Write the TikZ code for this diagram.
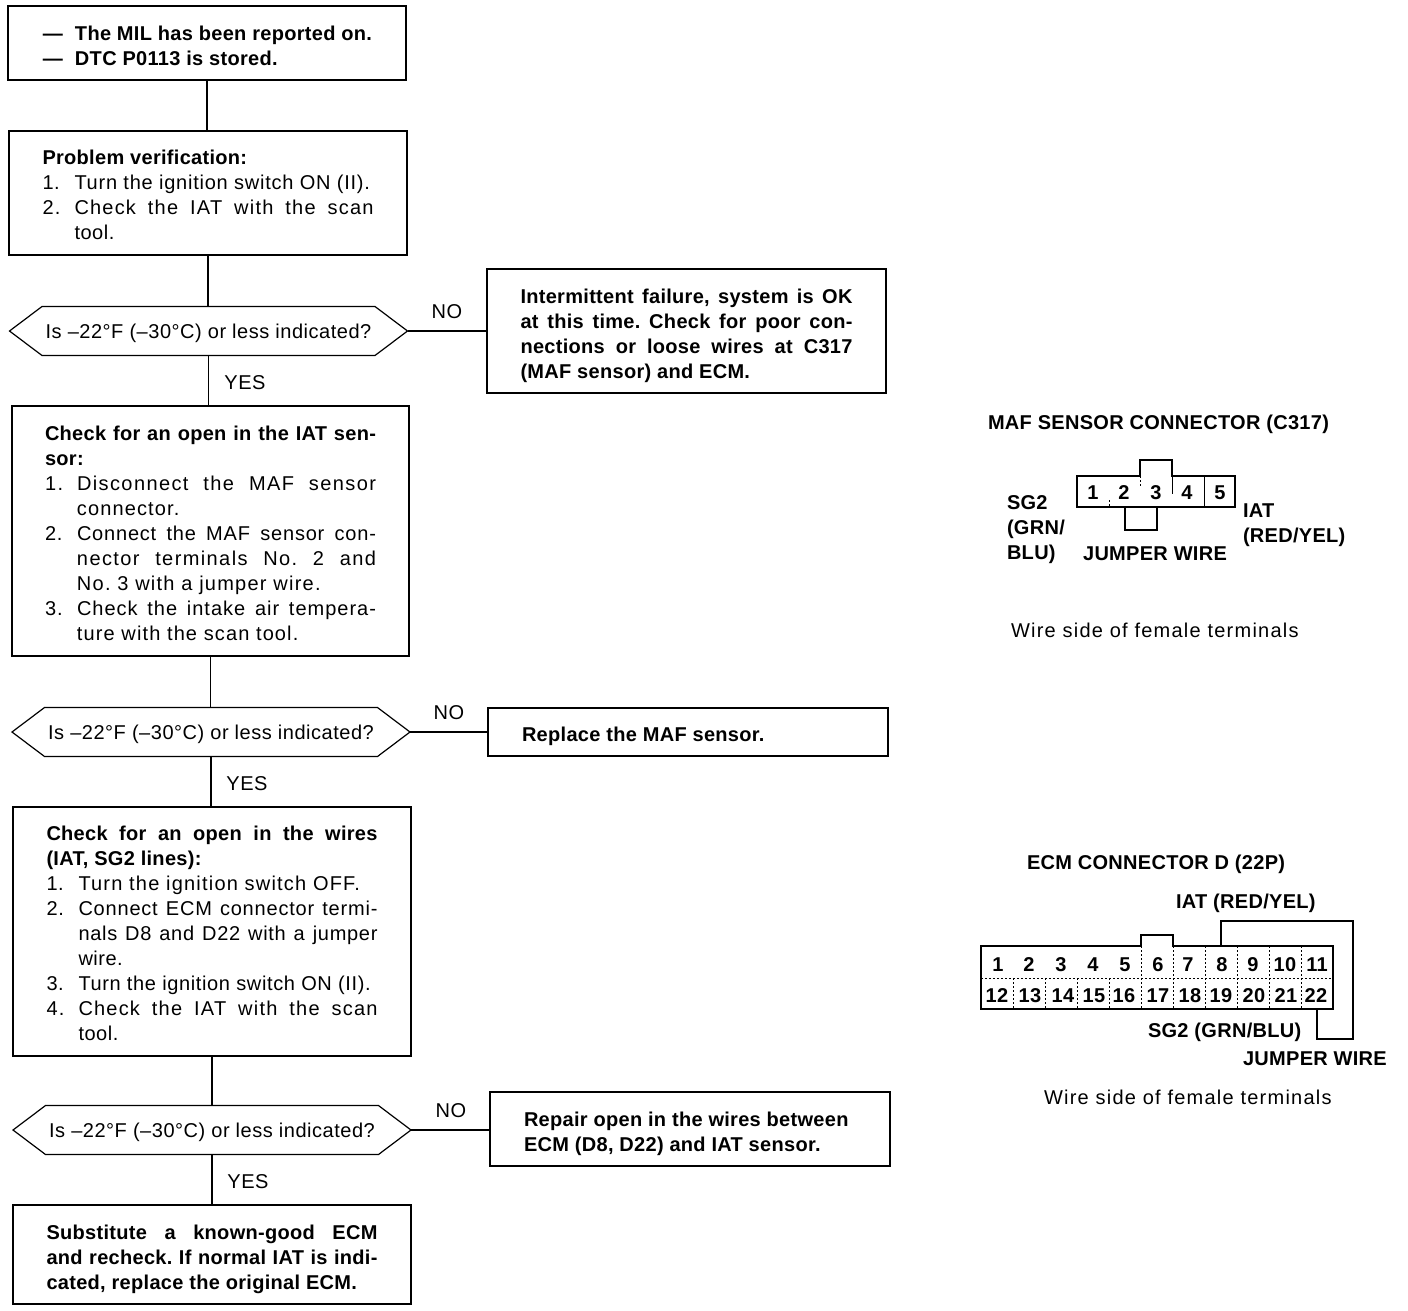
\documentclass[tikz,border=0pt]{standalone}
\usepackage{fontspec}
\setmainfont{Liberation Sans}[LetterSpace=2.6,BoldFeatures={LetterSpace=1.5}]
\usetikzlibrary{shapes.symbols}
\frenchspacing
\newcommand{\J}[1]{\makebox[\linewidth][s]{#1}}
\newcommand{\JL}[2]{{\addfontfeature{LetterSpace=#1}\makebox[\linewidth][s]{#2}}}
\newcommand{\JB}[2]{{\bfseries\addfontfeature{LetterSpace=#1}\makebox[\linewidth][s]{#2}}}
\newcommand{\Lz}[2]{{\addfontfeature{LetterSpace=#1}#2}}
\newcommand{\Nm}[1]{\makebox[32pt][l]{#1}}
\newcommand{\Ind}{\hspace*{32pt}}
\newcommand{\Low}[1]{\raisebox{-2pt}[\height][\depth]{#1}}
\newcommand{\Txt}[3]{\raisebox{-#1}[\height][\depth]{\parbox{#2}{\raggedright #3}}}
\tikzset{
  x=1pt,y=-1pt,
  every node/.style={font=\fontsize{20}{25}\selectfont,inner sep=0pt,outer sep=0pt},
  flowbox/.style={draw,line width=1.4pt,rectangle},
  decision/.style={draw,line width=1.2pt,signal,signal to=east and west,signal pointer angle=74,minimum width=398pt,minimum height=49pt,align=center},
  link/.style={line width=1.5pt},
  thinlink/.style={line width=1.2pt},
  widelbl/.style={align=left,anchor=west,font=\fontsize{20}{25}\selectfont\addfontfeature{LetterSpace=6.2}},
  blbl/.style={align=left,anchor=west,font=\fontsize{20}{25}\selectfont\bfseries\addfontfeature{LetterSpace=3}},
  pin/.style={font=\fontsize{20}{25}\selectfont\bfseries},
  shell/.style={line width=1.2pt},
  cavity/.style={line width=.6pt,dash pattern=on 1.5pt off 2.5pt},
  jumper/.style={line width=1.5pt},
}
\begin{document}
\begin{tikzpicture}
\useasboundingbox (0,0) rectangle (1408,1310);
% flow chart, left column
\node[flowbox,minimum width=398pt,minimum height=74pt] (start) at (207,43) {\Txt{3pt}{331pt}{\bfseries
\mbox{\makebox[33.5pt][l]{\hspace*{1.5pt}—}The MIL has been reported on.}\\
\makebox[33.5pt][l]{\hspace*{1.5pt}—}DTC P0113 is stored.}};
\node[flowbox,minimum width=398pt,minimum height=124pt] (verify) at (208,193) {\Txt{2pt}{331pt}{{\bfseries Problem verification:}\\
\Nm{1.}\Lz{3.8}{Turn the ignition switch ON (II).}\\
\JL{6}{\Nm{2.}Check the IAT with the scan}\\
\Ind tool.}};
\node[decision] (q1) at (208.5,331) {\Low{Is –22°F (–30°C) or less indicated?}};
\node[flowbox,minimum width=397pt,minimum height=250pt] (iat) at (210.5,531) {\Txt{2pt}{331pt}{\JB{2}{Check for an open in the IAT sen-}\\
{\bfseries sor:}\\
\JL{7}{\Nm{1.}Disconnect the MAF sensor}\\
\Ind \Lz{5.6}{connector.}\\
\JL{4}{\Nm{2.}Connect the MAF sensor con-}\\
\JL{7}{\Ind nector terminals No. 2 and}\\
\Ind \Lz{6.2}{No. 3 with a jumper wire.}\\
\JL{5}{\Nm{3.}Check the intake air tempera-}\\
\Ind \Lz{5.6}{ture with the scan tool.}}};
\node[decision] (q2) at (211,732) {\Low{Is –22°F (–30°C) or less indicated?}};
\node[flowbox,minimum width=398pt,minimum height=249pt] (wires) at (212,931.5) {\Txt{2pt}{331pt}{\JB{3.5}{Check for an open in the wires}\\
{\bfseries (IAT, SG2 lines):}\\
\Nm{1.}\Lz{6}{Turn the ignition switch OFF.}\\
\JL{4}{\Nm{2.}Connect ECM connector termi-}\\
\JL{3.5}{\Ind nals D8 and D22 with a jumper}\\
\Ind wire.\\
\Nm{3.}\Lz{3.2}{Turn the ignition switch ON (II).}\\
\JL{6}{\Nm{4.}Check the IAT with the scan}\\
\Ind tool.}};
\node[decision] (q3) at (212,1130) {\Low{Is –22°F (–30°C) or less indicated?}};
\node[flowbox,minimum width=398pt,minimum height=99pt] (subst) at (212,1254.5) {\Txt{5pt}{331pt}{\bfseries
\JB{7}{Substitute a known-good ECM}\\
\J{and recheck. If normal IAT is indi-}\\
{\addfontfeature{LetterSpace=3}cated, replace the original ECM.}}};
% answer boxes
\node[flowbox,minimum width=399pt,minimum height=124pt] (ok) at (686.5,331) {\Txt{5pt}{332pt}{\bfseries
\J{Intermittent failure, system is OK}\\
\J{at this time. Check for poor con-}\\
\JB{3.5}{nections or loose wires at C317}\\
(MAF sensor) and ECM.}};
\node[flowbox,minimum width=400pt,minimum height=48pt] (maf) at (688,732) {\Txt{4pt}{332pt}{\bfseries\addfontfeature{LetterSpace=2.5}Replace the MAF sensor.}};
\node[flowbox,minimum width=400pt,minimum height=74pt] (repair) at (690,1129) {\Txt{5pt}{332pt}{\bfseries
\Lz{3}{Repair open in the wires between}\\
\Lz{2}{ECM (D8, D22) and IAT sensor.}}};
% connectors
\draw[link] (start.south) -- (start.south |- verify.north);
\draw[link] (verify.south) -- (verify.south |- q1.north);
\draw[thinlink] (q1.south) -- (q1.south |- iat.north);
\draw[link] (iat.south) -- (iat.south |- q2.north);
\draw[link] (q2.south) -- (q2.south |- wires.north);
\draw[link] (wires.south) -- (wires.south |- q3.north);
\draw[link] (q3.south) -- (q3.south |- subst.north);
\draw[thinlink] (q1.east) -- (ok.west |- q1.east);
\draw[thinlink] (q2.east) -- (maf.west |- q2.east);
\draw[link] (q3.east) -- (repair.west |- q3.east);
% branch labels
\node (no1) at (447,312) {NO};
\node (yes1) at (245,383) {YES};
\node (no2) at (449,713) {NO};
\node (yes2) at (247,784) {YES};
\node (no3) at (451,1111) {NO};
\node (yes3) at (248,1182) {YES};
% MAF connector
\node[blbl] (maft) at (988,424) {MAF SENSOR CONNECTOR (C317)};
\draw[shell] (1140,476) -- (1077,476) -- (1077,507) -- (1235,507) -- (1235,476) -- (1172,476) -- (1172,460) -- (1140,460) -- cycle;
\draw[cavity] (1109,500) -- (1109,507);
\draw[cavity] (1140.5,476) -- (1140.5,488);
\draw[line width=.7pt] (1172,476) -- (1172,494);
\draw[line width=.8pt] (1204,476) -- (1204,507);
\draw[line width=1.1pt] (1125,507) -- (1125,530) -- (1157,530) -- (1157,507);
\foreach \n/\x in {1/1093,2/1124,3/1156,4/1187,5/1220}
  \node[pin] (m\n) at (\x,493) {\n};
\node[blbl] (msg) at (1007,530) {SG2\\(GRN/\\BLU)};
\node[blbl] (miat) at (1243,525) {IAT\\(RED/YEL)};
\node[pin,font=\fontsize{20}{25}\selectfont\bfseries\addfontfeature{LetterSpace=3}] (mjw) at (1155,554) {JUMPER WIRE};
\node[widelbl] (mwire) at (1011,630) {Wire side of female terminals};
% ECM connector
\node[blbl] (ecmt) at (1027,864) {ECM CONNECTOR D (22P)};
\node[blbl] (eiat) at (1176,903) {IAT (RED/YEL)};
\draw[shell,line width=1.5pt] (1141,946) -- (981,946) -- (981,1009) -- (1333,1009) -- (1333,946) -- (1173,946) -- (1173,935) -- (1141,935) -- cycle;
\foreach \x in {1141,1173,1205,1237,1269,1301}
  \draw[cavity] (\x,946) -- (\x,1009);
\foreach \x in {1013,1045,1077,1109}
  \draw[cavity] (\x,978) -- (\x,1009);
\draw[cavity] (981,978) -- (1333,978);
\draw[jumper] (1221,946) -- (1221,921) -- (1353,921) -- (1353,1039) -- (1317,1039) -- (1317,1009);
\foreach \n/\x in {1/998,2/1029,3/1061,4/1093,5/1125,6/1158,7/1188,8/1222,9/1253,10/1285,11/1317}
  \node[pin] (e\n) at (\x,965) {\n};
\foreach \n/\x in {12/997,13/1030,14/1063,15/1094,16/1124,17/1158,18/1190,19/1221,20/1254,21/1286,22/1316}
  \node[pin] (e\n) at (\x,996) {\n};
\node[blbl] (esg) at (1148,1032) {SG2 (GRN/BLU)};
\node[blbl] (ejw) at (1243,1059) {JUMPER WIRE};
\node[widelbl] (ewire) at (1044,1097) {Wire side of female terminals};
\end{tikzpicture}
\end{document}
